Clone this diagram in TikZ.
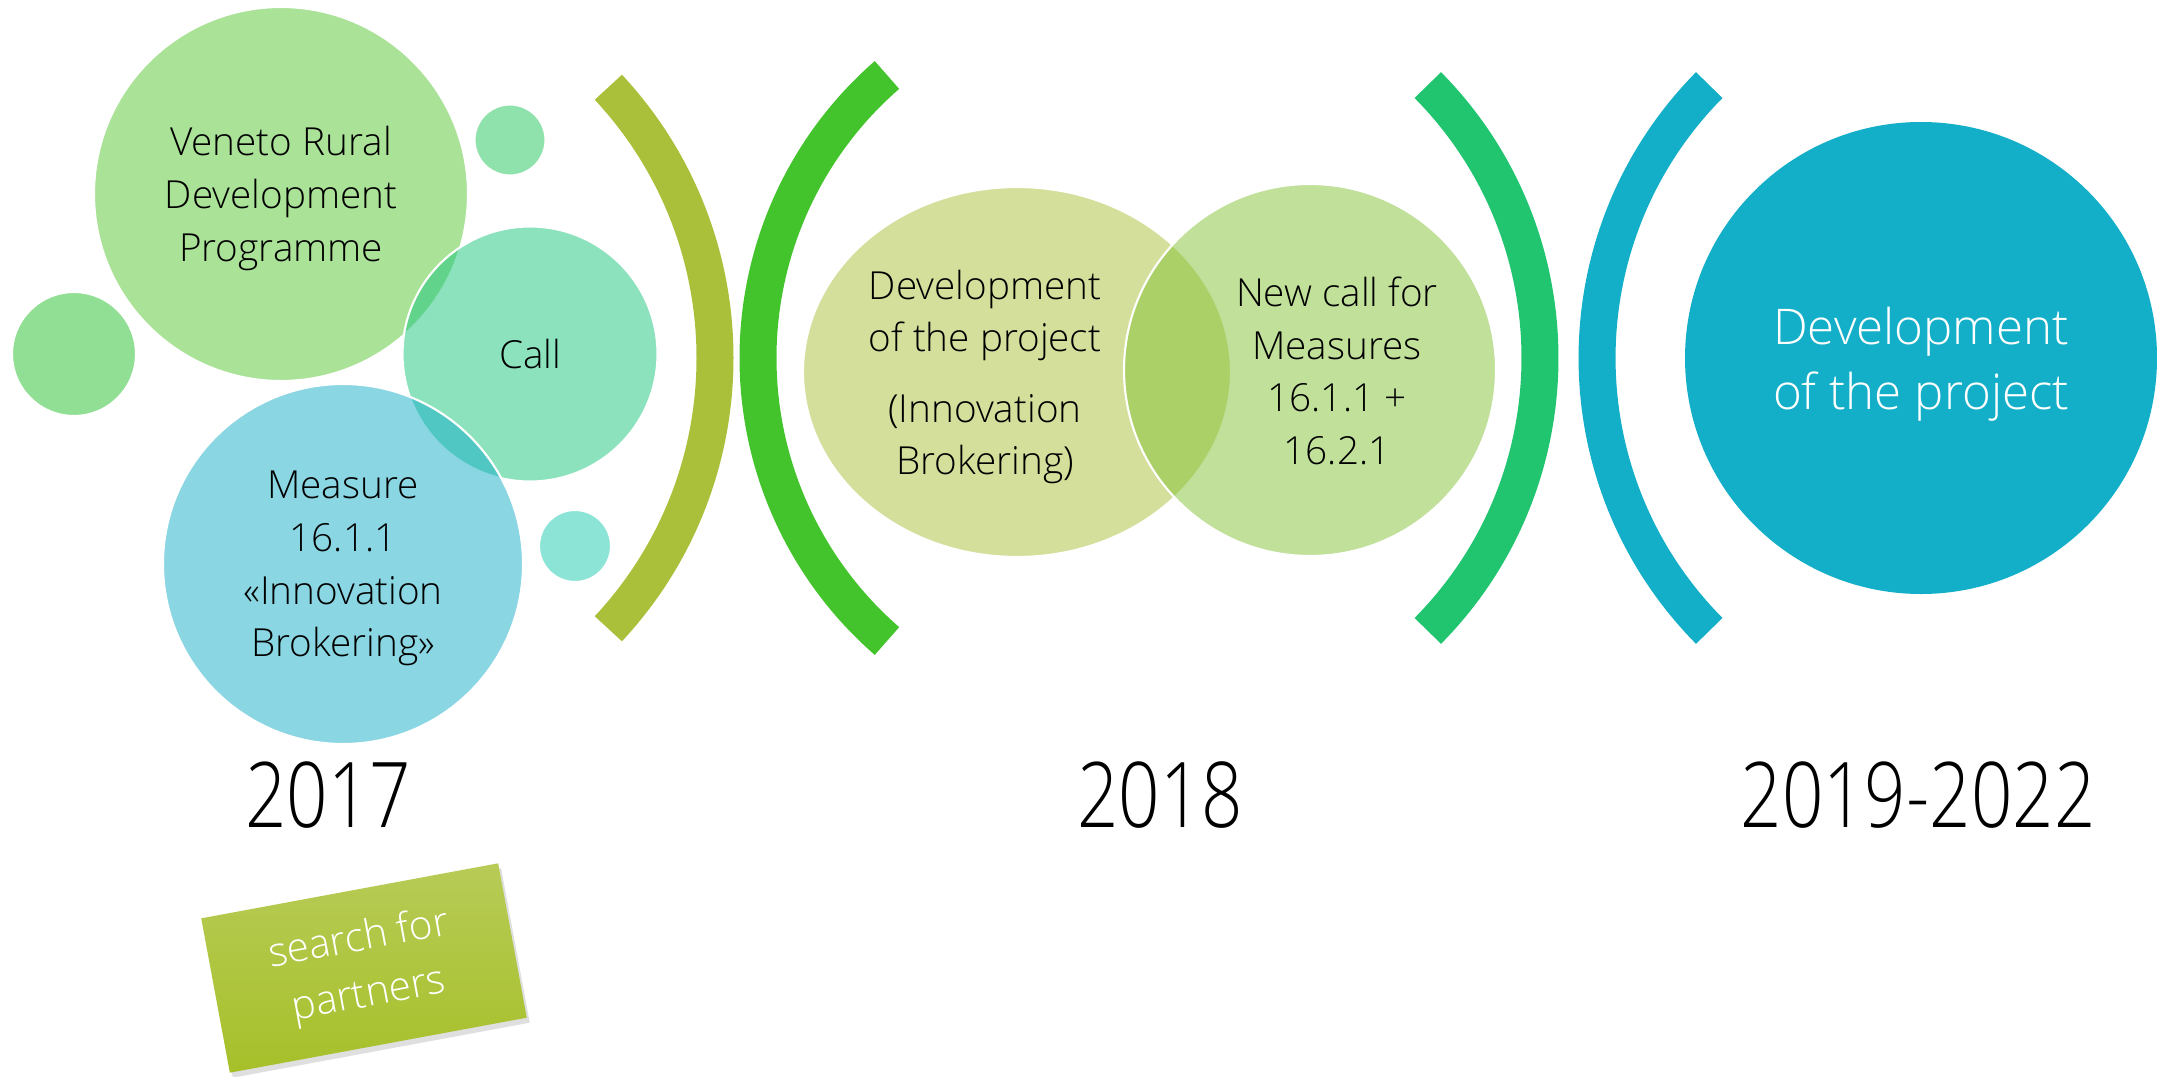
\documentclass[tikz,border=0pt]{standalone}
\usepackage{fontspec}
\IfFontExistsTF{Open Sans Light}{\setmainfont{Open Sans Light}}{\setmainfont{Open Sans}}
\usetikzlibrary{shapes.geometric,shadows,positioning}
\definecolor{venetoC}{HTML}{55C52F}
\definecolor{callC}{HTML}{1BC57D}
\definecolor{measureC}{HTML}{15ADC7}
\definecolor{dotA}{HTML}{23BF29}
\definecolor{dotB}{HTML}{1FC557}
\definecolor{dotC}{HTML}{19C9AD}
\definecolor{devC}{HTML}{A9BF39}
\definecolor{newcallC}{HTML}{83C135}
\definecolor{oliveArc}{HTML}{ABC03A}
\definecolor{greenArc}{HTML}{44C42C}
\definecolor{mintArc}{HTML}{21C46F}
\definecolor{blueArc}{HTML}{13AFC8}
\definecolor{boxtop}{HTML}{B7CB57}
\definecolor{boxbot}{HTML}{A6C029}

\begin{document}
\begin{tikzpicture}
\tikzset{bubble/.style={circle,fill=#1,fill opacity=0.5,text opacity=1,draw=white,line width=0.6pt,
    align=center,inner sep=0pt,text depth=0pt,font=\fontsize{11}{15}\selectfont},
  bubbletext/.style={align=center,font=\fontsize{11}{15}\selectfont},
  paren/.style={draw=#1,line width=0.37cm},
  yearlabel/.style={font=\fontsize{25.8}{30}\selectfont,xscale=0.8,transform shape,inner sep=0pt},
  partnerbox/.style={minimum width=3.02cm,minimum height=1.57cm,top color=boxtop,bottom color=boxbot,
    drop shadow={shadow xshift=0.03cm,shadow yshift=-0.05cm,opacity=0.25},text=white,align=center,
    font=\fontsize{11.5}{16}\selectfont}}
\useasboundingbox (0,0) rectangle (21.57,10.76);

\node[bubble=venetoC,minimum size=3.74cm] (veneto) at (2.81,8.82) {Veneto Rural\\Development\\Programme};
\node[bubble=dotA,minimum size=1.24cm] (dotleft) at (0.74,7.22) {};
\node[bubble=dotB,minimum size=0.71cm] (dottop) at (5.10,9.36) {};
\node[bubble=callC,minimum size=2.55cm] (call) at (5.30,7.22) {Call};
\node[bubble=measureC,minimum size=3.60cm] (measure) at (3.43,5.12) {Measure\\16.1.1\\«Innovation\\Brokering»};
\node[bubble=dotC,minimum size=0.72cm] (dotlow) at (5.75,5.30) {};

\draw[paren=oliveArc] ([shift={(-43:3.97)}]3.18,7.18) arc (-43:43:3.97);
\draw[paren=greenArc] ([shift={(131:3.75)}]11.33,7.18) arc (131:229:3.75);

\node[bubble=devC,ellipse,minimum width=4.28cm,minimum height=3.70cm] (devell) at (10.17,7.04) {};
\node[bubble=newcallC,minimum size=3.72cm] (newcall) at (13.10,7.06) {};
\node[bubbletext] (devtext) at (9.85,6.99) {Development\\of the project\\[5pt](Innovation\\Brokering)};
\node[bubbletext] (newcalltext) at (13.37,7.05) {New call for\\Measures\\16.1.1 +\\16.2.1};

\draw[paren=mintArc] ([shift={(-44.7:3.88)}]11.52,7.18) arc (-44.7:44.7:3.88);
\draw[paren=blueArc] ([shift={(135.3:3.88)}]19.85,7.18) arc (135.3:224.7:3.88);

\node[circle,fill=blueArc,minimum size=4.72cm,text=white,align=center,text depth=0pt,
  font=\fontsize{14}{18.4}\selectfont] (final) at (19.21,7.18) {Development\\of the project};

\node[yearlabel] (y2017) at (3.28,2.81) {2017};
\node[yearlabel] (y2018) at (11.60,2.81) {2018};
\node[yearlabel] (y2019) at (19.18,2.81) {2019-2022};

\node[partnerbox,rotate=10.5] (search) at (3.64,1.08) {search for\\partners};
\end{tikzpicture}
\end{document}
